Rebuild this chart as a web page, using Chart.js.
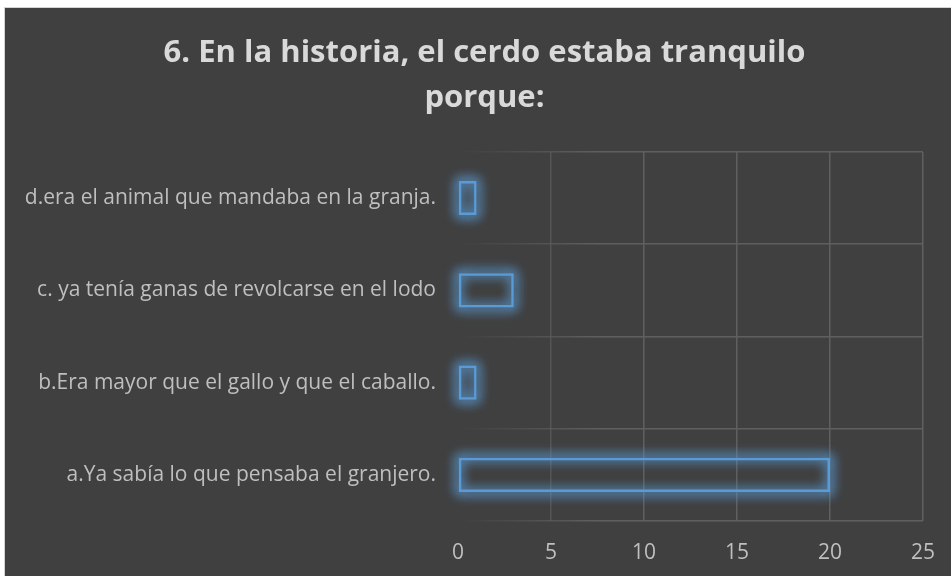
<!DOCTYPE html>
<html>
<head>
<meta charset="utf-8">
<script src="https://cdn.jsdelivr.net/npm/chart.js@4.4.1/dist/chart.umd.min.js"></script>
<style>
  html, body { margin: 0; padding: 0; background: #ffffff; width: 951px; height: 576px; overflow: hidden; }
  #frame { position: absolute; left: 4px; top: 7px; width: 960px; height: 600px; background: #404040;
           border-left: 1px solid #d4d4d4; border-top: 1px solid #d4d4d4; }
  #wrap { position: absolute; left: 0; top: 0; width: 951px; height: 576px; }
</style>
</head>
<body>
<div id="frame"></div>
<div id="wrap"><canvas id="c" width="951" height="576"></canvas></div>
<script>
// ---- data ----
const titleLines = ['6. En la historia, el cerdo estaba tranquilo', 'porque:'];
const categories = [
  'a.Ya sabía lo que pensaba el granjero.',
  'b.Era mayor que el gallo y que el caballo.',
  'c. ya tenía ganas de revolcarse en el lodo',
  'd.era el animal que mandaba en la granja.'
];
const values = [20, 1, 3, 1];
const xTicks = [0, 5, 10, 15, 20, 25];

Chart.defaults.font.family = "'Open Sans', 'Noto Sans', sans-serif";

const PLOT_LEFT = 458;
const PAD_RIGHT = 28;
const TITLE_LEFT = 46;

function gridGradient(ctx) {
  const chart = ctx.chart;
  const g = chart.ctx.createLinearGradient(PLOT_LEFT, 0, PLOT_LEFT + 140, 0);
  g.addColorStop(0, 'rgba(95,95,95,0)');
  g.addColorStop(1, 'rgba(95,95,95,1)');
  return g;
}

// shifts the title's centre slightly right, as in the reference
const titleShift = {
  id: 'titleShift',
  afterLayout(chart) {
    if (chart.titleBlock) { chart.titleBlock.left = TITLE_LEFT; }
  }
};

// soft blue glow around each bar (shadow only), using the bar elements computed by Chart.js
const glow = {
  id: 'glow',
  beforeDatasetsDraw(chart) {
    const ctx = chart.ctx;
    const meta = chart.getDatasetMeta(0);
    const OFF = 5000;
    ctx.save();
    ctx.shadowColor = 'rgba(91,155,213,0.95)';
    ctx.shadowBlur = 12;
    ctx.shadowOffsetX = OFF;
    ctx.strokeStyle = '#5b9bd5';
    ctx.lineWidth = 4;
    meta.data.forEach(bar => {
      const p = bar.getProps(['x', 'y', 'base', 'height'], true);
      const l = Math.min(p.x, p.base), r = Math.max(p.x, p.base);
      const t = p.y - p.height / 2;
      for (let i = 0; i < 2; i++) ctx.strokeRect(l - OFF, t, r - l, p.height);
    });
    ctx.restore();
  }
};

new Chart(document.getElementById('c'), {
  type: 'bar',
  data: {
    labels: categories,
    datasets: [{
      data: values,
      backgroundColor: 'rgba(0,0,0,0)',
      borderColor: '#5b9bd5',
      borderWidth: 2.5,
      borderSkipped: false,
      barPercentage: 0.37,
      categoryPercentage: 1
    }]
  },
  options: {
    indexAxis: 'y',
    responsive: false,
    animation: false,
    events: [],
    layout: { padding: { left: 0, right: PAD_RIGHT, top: 0, bottom: 0 } },
    plugins: {
      legend: { display: false },
      tooltip: { enabled: false },
      title: {
        display: true,
        text: titleLines,
        color: '#d9d9d9',
        font: { size: 31, weight: 'bold', lineHeight: 1.45 },
        padding: { top: 31, bottom: 31 }
      }
    },
    scales: {
      x: {
        min: xTicks[0],
        max: xTicks[xTicks.length - 1],
        afterBuildTicks(scale) { scale.ticks = xTicks.map(v => ({ value: v })); },
        afterFit(scale) { scale.height = 55; scale.paddingLeft = 0; scale.paddingRight = 0; },
        border: { display: false },
        grid: { color: gridGradient, lineWidth: 1.5, drawTicks: false },
        ticks: { color: '#bfbfbf', font: { size: 21 }, padding: 19 }
      },
      y: {
        reverse: true,
        afterFit(scale) { scale.width = PLOT_LEFT; },
        border: { display: false },
        grid: { color: gridGradient, lineWidth: 1.5, drawTicks: false },
        ticks: { color: '#bfbfbf', font: { size: 21 }, padding: 22 }
      }
    }
  },
  plugins: [titleShift, glow]
});
</script>
</body>
</html>
